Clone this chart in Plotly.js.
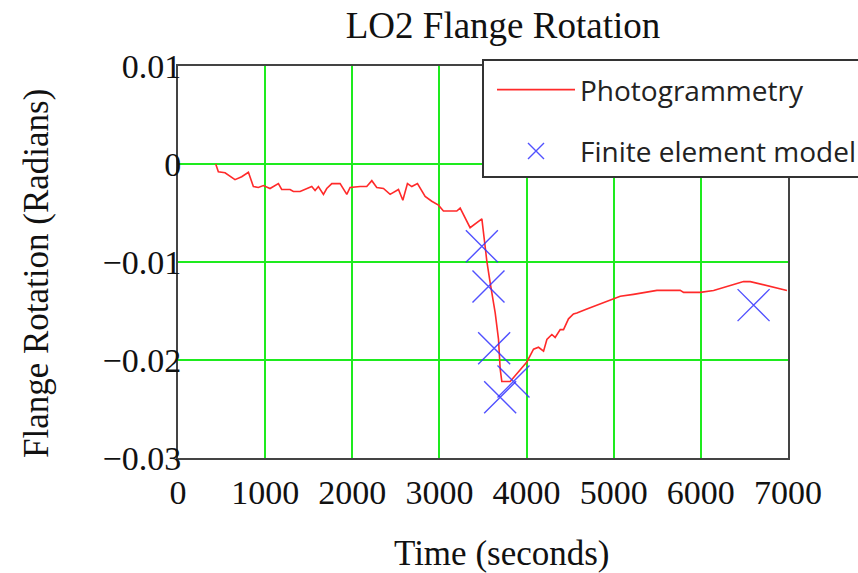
<!DOCTYPE html>
<html>
<head>
<meta charset="utf-8">
<script src="https://cdn.plot.ly/plotly-3.0.1.min.js"></script>
<style>html,body{margin:0;padding:0;background:#fff;}#chart{width:858px;height:573px;}</style>
</head>
<body>
<div id="chart"></div>
<script>
// Photogrammetry measurement (time in seconds, rotation in radians)
const photoTime = [433, 463, 540, 654, 731, 808, 865, 922, 980, 1056, 1152, 1190, 1286, 1324, 1401, 1497, 1535, 1573, 1611, 1669,
  1707, 1765, 1860, 1937, 1975, 2090, 2166, 2224, 2281, 2358, 2434, 2530, 2580, 2633, 2683, 2748, 2778, 2836, 2912, 2989,
  3046, 3199, 3238, 3352, 3487, 3525, 3544, 3582, 3620, 3640, 3678, 3697, 3716, 3812, 4003, 4080, 4137, 4195, 4233, 4290,
  4328, 4386, 4424, 4481, 4538, 4577, 4692, 4845, 4979, 5075, 5227, 5496, 5763, 5802, 5993, 6146, 6376, 6490, 6567, 6758,
  6873, 6988];
const photoRotation = [0, -0.0008, -0.0009, -0.0016, -0.0013, -0.00085, -0.0023, -0.0024, -0.0022, -0.0025, -0.002, -0.0026, -0.0026, -0.0028, -0.0028, -0.0024, -0.0023, -0.0027, -0.0023, -0.0031,
  -0.0025, -0.002, -0.002, -0.0031, -0.0024, -0.0023, -0.0023, -0.0017, -0.0024, -0.0025, -0.0031, -0.0026, -0.0037, -0.002, -0.0023, -0.002, -0.0024, -0.0033, -0.0038, -0.0042,
  -0.0048, -0.0048, -0.0045, -0.0065, -0.0056, -0.0089, -0.0099, -0.0121, -0.0141, -0.0152, -0.0179, -0.0209, -0.0222, -0.0222, -0.0202, -0.0189, -0.0187, -0.0191, -0.0179, -0.0174,
  -0.0177, -0.0169, -0.0169, -0.0158, -0.0153, -0.0152, -0.0148, -0.0143, -0.0138, -0.0135, -0.0133, -0.0129, -0.0129, -0.0131, -0.0131, -0.0129, -0.0123, -0.012, -0.012, -0.0124,
  -0.0126, -0.0129];

// Finite element model predictions
const femTime = [3487, 3563, 3628, 3697, 3850, 6605];
const femRotation = [-0.0084, -0.0125, -0.0188, -0.0238, -0.0222, -0.0144];

const xTicks = [0, 1000, 2000, 3000, 4000, 5000, 6000, 7000];
const yTicks = [0.01, 0, -0.01, -0.02, -0.03];

const serif = '"Liberation Serif", "Times New Roman", serif';

const traces = [
  {
    x: photoTime, y: photoRotation, type: 'scatter', mode: 'lines',
    name: 'Photogrammetry', legendgroup: 'a',
    line: {color: '#ff2a2a', width: 1.6}
  },
  {
    x: femTime, y: femRotation, type: 'scatter', mode: 'markers',
    name: 'Finite element model', legendgroup: 'b',
    marker: {symbol: 'x-thin-open', size: 32, color: 'rgba(50,50,255,0.85)', line: {color: 'rgba(50,50,255,0.85)', width: 1.4}}
  }
];

const layout = {
  width: 858, height: 573,
  paper_bgcolor: '#fff', plot_bgcolor: '#fff',
  margin: {l: 178, r: 70, t: 66, b: 115, autoexpand: false},
  showlegend: true,
  font: {family: serif, color: '#111'},
  title: {text: 'LO2 Flange Rotation', font: {family: serif, size: 37, color: '#111'},
          x: 503 / 858, xanchor: 'center', y: 1 - 25 / 573, yanchor: 'middle'},
  xaxis: {
    range: [0, 7000], tickvals: xTicks, ticktext: xTicks.map(String),
    showgrid: true, gridcolor: 'rgb(30,235,30)', gridwidth: 2,
    zeroline: false, showline: true, mirror: true, linecolor: '#444', linewidth: 2,
    ticks: '', ticklabelstandoff: 3, tickfont: {family: serif, size: 34, color: '#111'}
  },
  yaxis: {
    range: [-0.03, 0.01], tickvals: yTicks,
    showgrid: true, gridcolor: 'rgb(30,235,30)', gridwidth: 2,
    zeroline: false, showline: true, mirror: true, linecolor: '#444', linewidth: 2,
    ticks: '', ticklabelstandoff: -12, tickfont: {family: serif, size: 34, color: '#111'}
  },
  legend: {
    x: (482 - 178) / 610, xanchor: 'left', y: 1 + 7 / 392, yanchor: 'top',
    bgcolor: '#fff', bordercolor: '#333', borderwidth: 2,
    title: {text: ' ', font: {size: 3}},
    font: {family: '"Open Sans", "Noto Sans", sans-serif', size: 28, color: '#222'},
    traceorder: 'grouped', tracegroupgap: 22, itemwidth: 78, indentation: 8
  },
  annotations: [
    {text: 'Time (seconds)', xref: 'paper', yref: 'paper', x: (502 - 178) / 610, y: -(553 - 458) / 392,
     xanchor: 'center', yanchor: 'middle', showarrow: false, font: {family: serif, size: 35, color: '#111'}},
    {text: 'Flange Rotation (Radians)', xref: 'paper', yref: 'paper', x: -(178 - 36) / 610, y: (458 - 274) / 392,
     xanchor: 'center', yanchor: 'middle', textangle: -90, showarrow: false, font: {family: serif, size: 35, color: '#111'}}
  ]
};

Plotly.newPlot('chart', traces, layout, {staticPlot: true, displayModeBar: false});
</script>
</body>
</html>
